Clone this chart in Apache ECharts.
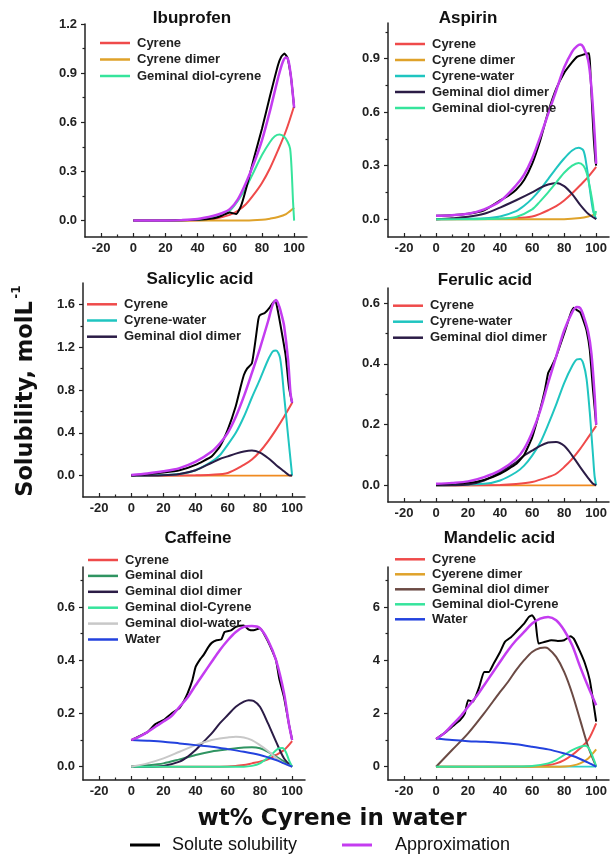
<!DOCTYPE html>
<html><head><meta charset="utf-8">
<script src="https://cdn.jsdelivr.net/npm/echarts@6/dist/echarts.min.js"></script>
<style>html,body{margin:0;padding:0;background:#fff}#c{width:613px;height:856px}</style>
</head><body><div id="c"></div>
<script>
// ---------- tick labels ----------
const xTickValues = [-20, 0, 20, 40, 60, 80, 100];
const xMinorValues = [-10, 10, 30, 50, 70, 90];
const ibuYTicks = [0, 0.3, 0.6, 0.9, 1.2];
const aspYTicks = [0, 0.3, 0.6, 0.9];
const salYTicks = [0, 0.4, 0.8, 1.2, 1.6];
const ferYTicks = [0, 0.2, 0.4, 0.6];
const cafYTicks = [0, 0.2, 0.4, 0.6];
const manYTicks = [0, 2, 4, 6];
const ibuYMinor = [0.15, 0.45, 0.75, 1.05];
const aspYMinor = [0.15, 0.45, 0.75, 1.05];
const salYMinor = [0.2, 0.6, 1.0, 1.4];
const ferYMinor = [0.1, 0.3, 0.5];
const cafYMinor = [0.1, 0.3, 0.5, 0.7];
const manYMinor = [1, 3, 5, 7];

// ---------- Ibuprofen ----------
const ibuSolute = [[0,0],[20,0],[40,0.005],[50,0.015],[55,0.03],[60,0.05],[64,0.04],[67,0.09],[70,0.19],[75,0.38],[80,0.56],[85,0.76],[90,0.95],[92,1.0],[94,1.02],[96,0.99],[98,0.88],[99,0.79],[100,0.69]];
const ibuApprox = [[0,0],[20,0.001],[30,0.003],[40,0.01],[50,0.03],[55,0.045],[60,0.07],[65,0.13],[70,0.23],[75,0.35],[80,0.49],[85,0.67],[90,0.87],[93,0.97],[95,0.995],[96,0.99],[97,0.95],[98,0.88],[99,0.79],[100,0.69]];
const ibuCyrene = [[0,0],[40,0.002],[50,0.01],[60,0.035],[65,0.06],[70,0.1],[75,0.16],[80,0.23],[85,0.32],[90,0.43],[95,0.55],[100,0.7]];
const ibuDimer = [[0,0],[70,0],[80,0.005],[85,0.012],[90,0.022],[95,0.04],[100,0.078]];
const ibuGemCyr = [[0,0],[40,0.005],[50,0.02],[55,0.035],[60,0.06],[65,0.12],[70,0.2],[75,0.3],[80,0.4],[85,0.48],[88,0.515],[91,0.525],[94,0.51],[96,0.48],[97.5,0.44],[98.5,0.3],[99.3,0.12],[100,0]];

// ---------- Aspirin ----------
const aspSolute = [[0,0.019],[10,0.022],[20,0.03],[30,0.05],[40,0.105],[45,0.13],[50,0.165],[55,0.22],[60,0.31],[65,0.44],[70,0.6],[75,0.73],[80,0.82],[85,0.88],[88,0.91],[91,0.92],[95.5,0.93],[96.5,0.8],[97.5,0.62],[98.5,0.45],[99.5,0.33],[100,0.3]];
const aspApprox = [[0,0.019],[10,0.022],[20,0.03],[30,0.055],[40,0.1],[50,0.19],[55,0.25],[60,0.34],[65,0.46],[70,0.59],[75,0.72],[80,0.85],[85,0.94],[88,0.97],[90,0.98],[92,0.965],[95,0.89],[97,0.74],[99,0.48],[100,0.31]];
const aspCyrene = [[0,0],[40,0.002],[50,0.005],[60,0.015],[65,0.03],[70,0.05],[75,0.073],[80,0.105],[85,0.145],[90,0.19],[95,0.237],[100,0.293]];
const aspDimer = [[0,0],[80,0],[90,0.006],[95,0.015],[100,0.03]];
const aspCyrWater = [[0,0],[30,0.005],[40,0.015],[50,0.045],[55,0.075],[60,0.115],[65,0.165],[70,0.225],[75,0.285],[80,0.34],[85,0.385],[89,0.4],[92,0.385],[94,0.3],[96,0.17],[98,0.05],[100,0]];
const aspGemDimer = [[0,0],[10,0.005],[20,0.013],[30,0.03],[40,0.065],[50,0.106],[60,0.15],[65,0.175],[70,0.194],[75,0.203],[80,0.185],[85,0.14],[90,0.08],[95,0.03],[100,0]];
const aspGemCyr = [[0,0],[40,0.003],[50,0.012],[60,0.055],[65,0.1],[70,0.15],[75,0.205],[80,0.26],[85,0.3],[89,0.315],[92,0.3],[94,0.26],[96,0.18],[98,0.08],[99,0.02],[100,0.045]];

// ---------- Salicylic acid ----------
const salSolute = [[0,0],[20,0.03],[30,0.05],[40,0.1],[50,0.18],[55,0.27],[60,0.43],[65,0.65],[68,0.83],[70,0.94],[72,1.0],[75,1.05],[77,1.24],[79,1.46],[80,1.5],[83,1.52],[86,1.57],[89,1.63],[90,1.62],[92,1.47],[94,1.3],[96,1.12],[98,0.83],[100,0.68]];
const salApprox = [[0,0.006],[10,0.02],[20,0.04],[30,0.07],[40,0.13],[50,0.225],[55,0.3],[60,0.4],[65,0.55],[70,0.74],[75,0.96],[80,1.19],[85,1.44],[88,1.6],[90,1.64],[92,1.58],[93.5,1.5],[95,1.4],[97.5,1.08],[99,0.77],[100,0.68]];
const salCyrene = [[0,0],[40,0.003],[50,0.008],[60,0.025],[70,0.1],[75,0.15],[80,0.225],[85,0.32],[90,0.43],[95,0.55],[100,0.68]];
const salCyrWater = [[0,0],[20,0.005],[30,0.015],[40,0.05],[50,0.13],[55,0.19],[60,0.29],[65,0.4],[70,0.55],[75,0.73],[80,0.9],[85,1.08],[88,1.16],[90,1.17],[92.5,1.1],[95,0.75],[97.5,0.37],[100,0]];
const salGemDimer = [[0,0],[20,0.003],[30,0.015],[40,0.05],[50,0.12],[55,0.155],[60,0.18],[65,0.205],[70,0.225],[75,0.234],[80,0.215],[85,0.165],[90,0.1],[95,0.04],[98,0.005],[100,0]];
const salBase = [[0,0],[100,0]];

// ---------- Ferulic acid ----------
const ferSolute = [[0,0.003],[20,0.008],[30,0.018],[40,0.038],[50,0.07],[55,0.1],[60,0.158],[65,0.25],[68,0.315],[70,0.37],[72,0.39],[75,0.424],[80,0.5],[84,0.565],[86,0.585],[88,0.577],[90,0.57],[92,0.543],[94,0.51],[96,0.446],[98,0.315],[100,0.2]];
const ferApprox = [[0,0.005],[10,0.008],[20,0.013],[30,0.027],[40,0.049],[50,0.087],[55,0.12],[60,0.174],[65,0.245],[70,0.337],[75,0.424],[80,0.51],[85,0.57],[88,0.587],[90,0.584],[92,0.56],[95,0.505],[97,0.435],[99,0.3],[100,0.2]];
const ferCyrene = [[0,0],[40,0.001],[50,0.004],[60,0.011],[70,0.027],[75,0.038],[80,0.06],[85,0.087],[90,0.12],[95,0.158],[100,0.196]];
const ferCyrWater = [[0,0],[30,0.005],[40,0.016],[50,0.043],[55,0.065],[60,0.098],[65,0.14],[70,0.2],[75,0.266],[80,0.337],[85,0.393],[88,0.415],[90,0.416],[92,0.4],[94,0.35],[96,0.24],[97,0.17],[98,0.1],[99,0.03],[100,0]];
const ferGemDimer = [[0,0],[20,0.003],[30,0.016],[40,0.043],[50,0.076],[55,0.098],[60,0.114],[65,0.13],[70,0.141],[75,0.143],[80,0.13],[85,0.098],[90,0.06],[95,0.024],[98,0.005],[100,0]];
const ferBase = [[0,0],[100,0]];

// ---------- Caffeine ----------
const cafSolute = [[0,0.1],[5,0.115],[10,0.13],[15,0.16],[20,0.175],[25,0.2],[30,0.22],[33,0.25],[35,0.275],[38,0.325],[40,0.375],[43,0.405],[45,0.42],[48,0.45],[50,0.465],[53,0.475],[56,0.478],[58,0.506],[62,0.512],[65,0.525],[70,0.53],[73,0.515],[76,0.512],[80,0.52],[85,0.47],[88,0.43],[90,0.4],[92,0.33],[95,0.26],[98,0.16],[100,0.1]];
const cafApprox = [[0,0.1],[5,0.1125],[10,0.13],[15,0.15],[20,0.17],[25,0.19],[30,0.225],[35,0.26],[40,0.306],[45,0.35],[50,0.394],[55,0.4375],[60,0.475],[65,0.506],[70,0.525],[75,0.528],[80,0.52],[85,0.475],[90,0.4],[95,0.275],[98,0.16],[100,0.1]];
const cafCyrene = [[0,0],[50,0],[60,0.001],[65,0.003],[70,0.006],[75,0.0125],[80,0.019],[85,0.0275],[90,0.044],[95,0.0625],[100,0.096]];
const cafGemDiol = [[0,0],[10,0.005],[20,0.0125],[30,0.0275],[40,0.044],[50,0.057],[60,0.065],[70,0.072],[75,0.073],[80,0.069],[85,0.056],[90,0.0375],[95,0.019],[100,0]];
const cafGemDimer = [[0,0],[10,0],[20,0.003],[30,0.019],[35,0.0375],[40,0.0625],[45,0.094],[50,0.125],[55,0.1625],[60,0.194],[65,0.225],[70,0.244],[73,0.25],[76,0.2475],[80,0.225],[85,0.1625],[90,0.094],[95,0.031],[100,0]];
const cafGemCyr = [[0,0],[70,0],[75,0.003],[80,0.0125],[85,0.034],[88,0.05],[90,0.062],[92,0.069],[94,0.07],[96,0.056],[98,0.025],[100,0]];
const cafGemWater = [[0,0],[10,0.0125],[20,0.031],[30,0.056],[40,0.081],[50,0.1],[55,0.106],[60,0.11],[65,0.1125],[70,0.11],[75,0.1],[80,0.081],[85,0.059],[90,0.034],[95,0.0125],[100,0]];
const cafWater = [[0,0.1],[10,0.0975],[20,0.094],[30,0.0875],[40,0.081],[50,0.075],[60,0.066],[70,0.056],[80,0.044],[85,0.035],[90,0.025],[95,0.0125],[100,0]];

// ---------- Mandelic acid ----------
const manSolute = [[0,1.04],[5,1.25],[10,1.5],[15,1.75],[18,2.0],[20,2.5],[23,2.44],[27,3.0],[30,3.56],[33,3.56],[36,3.875],[40,4.31],[43,4.69],[47,4.875],[50,5.06],[55,5.375],[58,5.625],[60,5.69],[62,5.5],[64,4.625],[68,4.69],[72,4.75],[76,4.725],[80,4.75],[84,4.9],[86,4.81],[90,4.31],[93,3.875],[96,3.25],[98,2.5],[100,1.69]];
const manApprox = [[0,1.04],[5,1.25],[10,1.56],[15,1.875],[20,2.25],[25,2.625],[30,3.06],[35,3.5],[40,3.94],[45,4.375],[50,4.75],[55,5.06],[60,5.375],[65,5.56],[70,5.625],[75,5.5],[80,5.125],[85,4.56],[90,3.75],[95,3.0],[100,2.31]];
const manCyrene = [[0,0],[50,0],[60,0.01],[65,0.03],[70,0.06],[75,0.125],[80,0.25],[85,0.44],[90,0.69],[95,1.0],[100,1.625]];
const manDimer = [[0,0],[75,0],[80,0.01],[85,0.04],[90,0.125],[95,0.31],[100,0.65]];
const manGemDimer = [[0,0],[10,0.625],[20,1.25],[30,2.0],[40,2.81],[45,3.19],[50,3.625],[55,4.0],[60,4.31],[65,4.46],[68,4.475],[70,4.44],[75,4.125],[80,3.56],[85,2.75],[90,1.75],[95,0.75],[100,0]];
const manGemCyr = [[0,0],[50,0.005],[60,0.025],[70,0.125],[75,0.25],[80,0.44],[85,0.625],[90,0.75],[93,0.79],[95,0.725],[97,0.5],[99,0.19],[100,0]];
const manWater = [[0,1.06],[10,1.0],[20,0.96],[30,0.94],[40,0.9],[50,0.84],[60,0.75],[70,0.65],[80,0.5],[85,0.41],[90,0.29],[95,0.15],[100,0]];
const manBase = [[0,0],[100,0]];

// ---------- styles ----------
const COL = {
  cyrene: '#ef4a4a', dimer: '#dfa22a', cyrWater: '#1fc5c0', gemDimer: '#2b1c46',
  gemDimerMan: '#6b4a44', gemCyr: '#36e49c', gemDiol: '#2f9461', gemWater: '#c8c8c8',
  water: '#2342de', solute: '#000000', approx: '#c43cf0', base: '#f08a20', baseCyan: '#30d0c8'
};
const FONT = 'Liberation Sans, Arial, sans-serif';

const panels = [
  { title: 'Ibuprofen', tx: 192, ty: 18, grid: { left: 85, top: 24, width: 222, height: 213 },
    ymin: -0.1, ymax: 1.2, yt: ibuYTicks, ym: ibuYMinor, dec: 1, leg: { left: 100, top: 36.5, gap: 3.5 },
    comps: [['Cyrene', ibuCyrene, COL.cyrene], ['Cyrene dimer', ibuDimer, COL.dimer], ['Geminal diol-cyrene', ibuGemCyr, COL.gemCyr]],
    extra: [], sol: ibuSolute, app: ibuApprox },
  { title: 'Aspirin', tx: 468, ty: 18, grid: { left: 388, top: 23, width: 221, height: 214 },
    ymin: -0.1, ymax: 1.1, yt: aspYTicks, ym: aspYMinor, dec: 1, leg: { left: 395, top: 37.5, gap: 3 },
    comps: [['Cyrene', aspCyrene, COL.cyrene], ['Cyrene dimer', aspDimer, COL.dimer], ['Cyrene-water', aspCyrWater, COL.cyrWater], ['Geminal diol dimer', aspGemDimer, COL.gemDimer], ['Geminal diol-cyrene', aspGemCyr, COL.gemCyr]],
    extra: [], sol: aspSolute, app: aspApprox },
  { title: 'Salicylic acid', tx: 200, ty: 279.5, grid: { left: 83, top: 283, width: 222, height: 214 },
    ymin: -0.2, ymax: 1.8, yt: salYTicks, ym: salYMinor, dec: 1, leg: { left: 87, top: 297.8, gap: 3.2 },
    comps: [['Cyrene', salCyrene, COL.cyrene], ['Cyrene-water', salCyrWater, COL.cyrWater], ['Geminal diol dimer', salGemDimer, COL.gemDimer]],
    extra: [['base', salBase, COL.base]], sol: salSolute, app: salApprox },
  { title: 'Ferulic acid', tx: 485, ty: 280, grid: { left: 388, top: 288, width: 221, height: 214 },
    ymin: -0.055, ymax: 0.65, yt: ferYTicks, ym: ferYMinor, dec: 1, leg: { left: 393, top: 299.2, gap: 3 },
    comps: [['Cyrene', ferCyrene, COL.cyrene], ['Cyrene-water', ferCyrWater, COL.cyrWater], ['Geminal diol dimer', ferGemDimer, COL.gemDimer]],
    extra: [['base', ferBase, COL.base]], sol: ferSolute, app: ferApprox },
  { title: 'Caffeine', tx: 198, ty: 538.5, grid: { left: 83, top: 567, width: 222, height: 213 },
    ymin: -0.05, ymax: 0.75, yt: cafYTicks, ym: cafYMinor, dec: 1, leg: { left: 88, top: 553.5, gap: 2.9 },
    comps: [['Cyrene', cafCyrene, COL.cyrene], ['Geminal diol', cafGemDiol, COL.gemDiol], ['Geminal diol dimer', cafGemDimer, COL.gemDimer], ['Geminal diol-Cyrene', cafGemCyr, COL.gemCyr], ['Geminal diol-water', cafGemWater, COL.gemWater], ['Water', cafWater, COL.water]],
    extra: [], sol: cafSolute, app: cafApprox },
  { title: 'Mandelic acid', tx: 499.5, ty: 538.5, grid: { left: 388, top: 567, width: 221, height: 213 },
    ymin: -0.5, ymax: 7.5, yt: manYTicks, ym: manYMinor, dec: 0, leg: { left: 395, top: 552.8, gap: 2 },
    comps: [['Cyrene', manCyrene, COL.cyrene], ['Cyerene dimer', manDimer, COL.dimer], ['Geminal diol dimer', manGemDimer, COL.gemDimerMan], ['Geminal diol-Cyrene', manGemCyr, COL.gemCyr], ['Water', manWater, COL.water]],
    extra: [['base', manBase, COL.baseCyan]], sol: manSolute, app: manApprox }
];

const grid = [], xAxis = [], yAxis = [], series = [], legend = [], graphic = [];
const axisLine = { show: true, onZero: false, lineStyle: { color: '#222', width: 1.5 } };
const noLine = { show: false, onZero: false };
const stripName = n => n.split('@')[0];

panels.forEach((p, i) => {
  grid.push(Object.assign({ containLabel: false }, p.grid));
  xAxis.push({ type: 'value', gridIndex: i, min: -30, max: 108, position: 'bottom',
    axisLine: axisLine, splitLine: { show: false },
    axisTick: { show: true, inside: true, length: 4, customValues: xTickValues, lineStyle: { color: '#222', width: 1.2 } },
    axisLabel: { show: true, customValues: xTickValues, margin: 5, color: '#222', fontFamily: FONT, fontWeight: 'bold', fontSize: 13 } });
  xAxis.push({ type: 'value', gridIndex: i, min: -30, max: 108, position: 'bottom', offset: 0,
    axisLine: noLine, splitLine: { show: false }, axisLabel: { show: false },
    axisTick: { show: true, inside: true, length: 2.5, customValues: xMinorValues, lineStyle: { color: '#222', width: 1.2 } } });
  yAxis.push({ type: 'value', gridIndex: i, min: p.ymin, max: p.ymax, position: 'left',
    axisLine: axisLine, splitLine: { show: false },
    axisTick: { show: true, inside: false, length: 4, customValues: p.yt, lineStyle: { color: '#222', width: 1.2 } },
    axisLabel: { show: true, customValues: p.yt, margin: 8, color: '#222', fontFamily: FONT, fontWeight: 'bold', fontSize: 13,
      formatter: v => Number(v).toFixed(p.dec) } });
  yAxis.push({ type: 'value', gridIndex: i, min: p.ymin, max: p.ymax, position: 'left', offset: 0,
    axisLine: noLine, splitLine: { show: false }, axisLabel: { show: false },
    axisTick: { show: true, inside: false, length: 2.5, customValues: p.ym, lineStyle: { color: '#222', width: 1.2 } } });

  const mk = (name, data, color, width) => ({
    type: 'line', name: name, xAxisIndex: 2 * i, yAxisIndex: 2 * i, data: data,
    showSymbol: false, symbol: 'none', smooth: 0.3, animation: false, silent: true,
    itemStyle: { color: color }, lineStyle: { color: color, width: width }
  });
  p.extra.forEach(s => series.push(mk(s[0] + '@' + i, s[1], s[2], 1.8)));
  const legNames = [];
  p.comps.forEach(s => { series.push(mk(s[0] + '@' + i, s[1], s[2], 2)); legNames.push(s[0] + '@' + i); });
  const sol = mk('Solute solubility@' + i, p.sol, COL.solute, 2); sol.smooth = 0.15; series.push(sol);
  series.push(mk('Approximation@' + i, p.app, COL.approx, 2.5));

  legend.push({ data: legNames, left: p.leg.left, top: p.leg.top, orient: 'vertical', padding: 0,
    itemGap: p.leg.gap, itemWidth: 30, itemHeight: 2.5, icon: 'rect', selectedMode: false,
    formatter: stripName,
    textStyle: { fontFamily: FONT, fontWeight: 'bold', fontSize: 13, lineHeight: 13, color: '#222', padding: [0, 0, 0, 2] } });

  graphic.push({ type: 'text', x: p.tx, y: p.ty, silent: true,
    style: { text: p.title, fill: '#111', font: 'bold 17px ' + FONT, textAlign: 'center', textVerticalAlign: 'middle' } });
});

legend.push({ data: ['Solute solubility@0'], left: 130, top: 836, padding: 0, itemWidth: 30, itemHeight: 3, icon: 'rect', selectedMode: false,
  formatter: stripName, textStyle: { fontFamily: FONT, fontSize: 18, lineHeight: 18, color: '#111', padding: [0, 0, 0, 7] } });
legend.push({ data: ['Approximation@0'], left: 342, top: 836, padding: 0, itemWidth: 30, itemHeight: 3, icon: 'rect', selectedMode: false,
  formatter: stripName, textStyle: { fontFamily: FONT, fontSize: 18, lineHeight: 18, color: '#111', padding: [0, 0, 0, 18] } });

graphic.push({ type: 'text', x: 332, y: 819, silent: true,
  style: { text: 'wt% Cyrene in water', fill: '#111', font: 'bold 23px DejaVu Sans', textAlign: 'center', textVerticalAlign: 'middle' } });
graphic.push({ type: 'text', x: 26, y: 399, rotation: Math.PI / 2, silent: true,
  style: { text: 'Solubility, molL', fill: '#111', font: 'bold 22.5px DejaVu Sans', textAlign: 'center', textVerticalAlign: 'middle' } });
graphic.push({ type: 'text', x: 17, y: 292, rotation: Math.PI / 2, silent: true,
  style: { text: '-1', fill: '#111', font: 'bold 12px DejaVu Sans', textAlign: 'center', textVerticalAlign: 'middle' } });

const chart = echarts.init(document.getElementById('c'), null, { renderer: 'canvas' });
chart.setOption({ backgroundColor: '#fff', animation: false, grid, xAxis, yAxis, series, legend, graphic });
</script></body></html>
